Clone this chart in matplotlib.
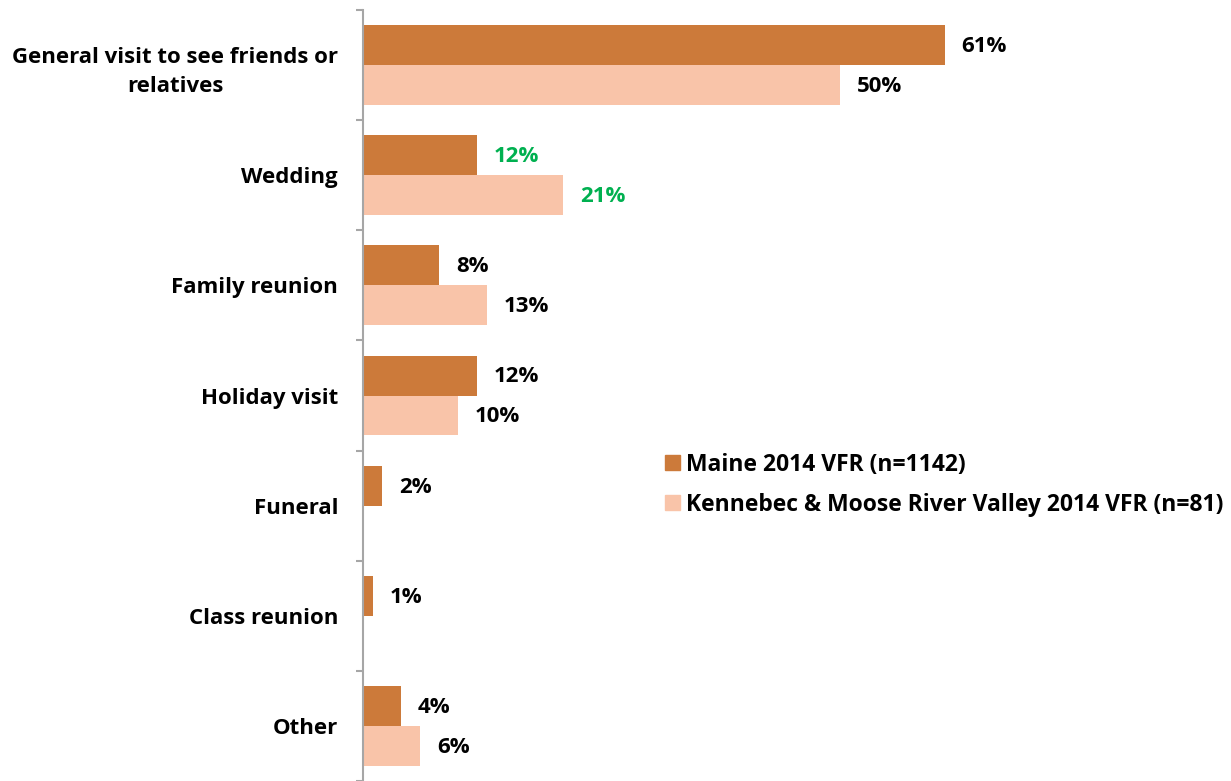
import numpy as np
import matplotlib
matplotlib.use("Agg")
import matplotlib.pyplot as plt
from matplotlib.patches import Patch

plt.rcParams['font.family'] = ['Open Sans', 'DejaVu Sans']
plt.rcParams['font.weight'] = 'bold'

# survey results, percent of respondents
categories = ["General visit to see friends or\nrelatives", "Wedding", "Family reunion",
              "Holiday visit", "Funeral", "Class reunion", "Other"]
maine = [61, 12, 8, 12, 2, 1, 4]
kennebec = [50, 21, 13, 10, 0, 0, 6]
series_names = ["Maine 2014 VFR (n=1142)", "Kennebec & Moose River Valley 2014 VFR (n=81)"]
highlight = ["Wedding"]

dark = "#CC7A3A"
light = "#F9C4A9"
green = "#00B050"
fs = 16

W, H = 1231, 781
fig = plt.figure(figsize=(W / 100, H / 100), dpi=100)
ax = fig.add_axes([363 / W, 0, (W - 363) / W, 771 / H])

y = np.arange(len(categories))
bh = 0.363
ax.barh(y - bh / 2, maine, height=bh, color=dark)
ax.barh(y + bh / 2, kennebec, height=bh, color=light)

ax.set_xlim(0, 91)
ax.set_ylim(len(categories) - 0.5, -0.5)

# value labels at the end of each bar (zero bars carry no label)
for i, cat in enumerate(categories):
    col = green if cat in highlight else "black"
    for off, vals in ((-bh / 2, maine), (bh / 2, kennebec)):
        v = vals[i]
        if v == 0:
            continue
        ax.annotate(f"{v}%", (v, y[i] + off), xytext=(12, -1), textcoords="offset points",
                    ha="left", va="center", fontsize=fs, fontweight="bold", color=col)

for s in ("top", "right", "bottom"):
    ax.spines[s].set_visible(False)
ax.spines["left"].set_color("#A6A6A6")
ax.spines["left"].set_linewidth(1.5)
ax.set_xticks([])

ax.set_yticks(y)
ax.set_yticklabels(categories, fontsize=fs, fontweight="bold")
ax.tick_params(axis="y", which="major", length=0, pad=18)
ax.set_yticks(np.arange(-0.5, len(categories) + 0.5, 1), minor=True)
ax.tick_params(axis="y", which="minor", length=5, width=1.5, color="#A6A6A6")
for t in ax.get_yticklabels():
    t.set_multialignment("center")
    t.set_linespacing(1.55)

handles = [Patch(color=dark), Patch(color=light)]
fig.legend(handles, series_names, loc="upper left", bbox_to_anchor=(644 / W, 1 - 432 / H),
           frameon=False, prop={"weight": "bold", "size": 16.5},
           handlelength=0.65, handleheight=0.65, handletextpad=0.3, labelspacing=0.7)

fig.savefig("out.png", dpi=100)
